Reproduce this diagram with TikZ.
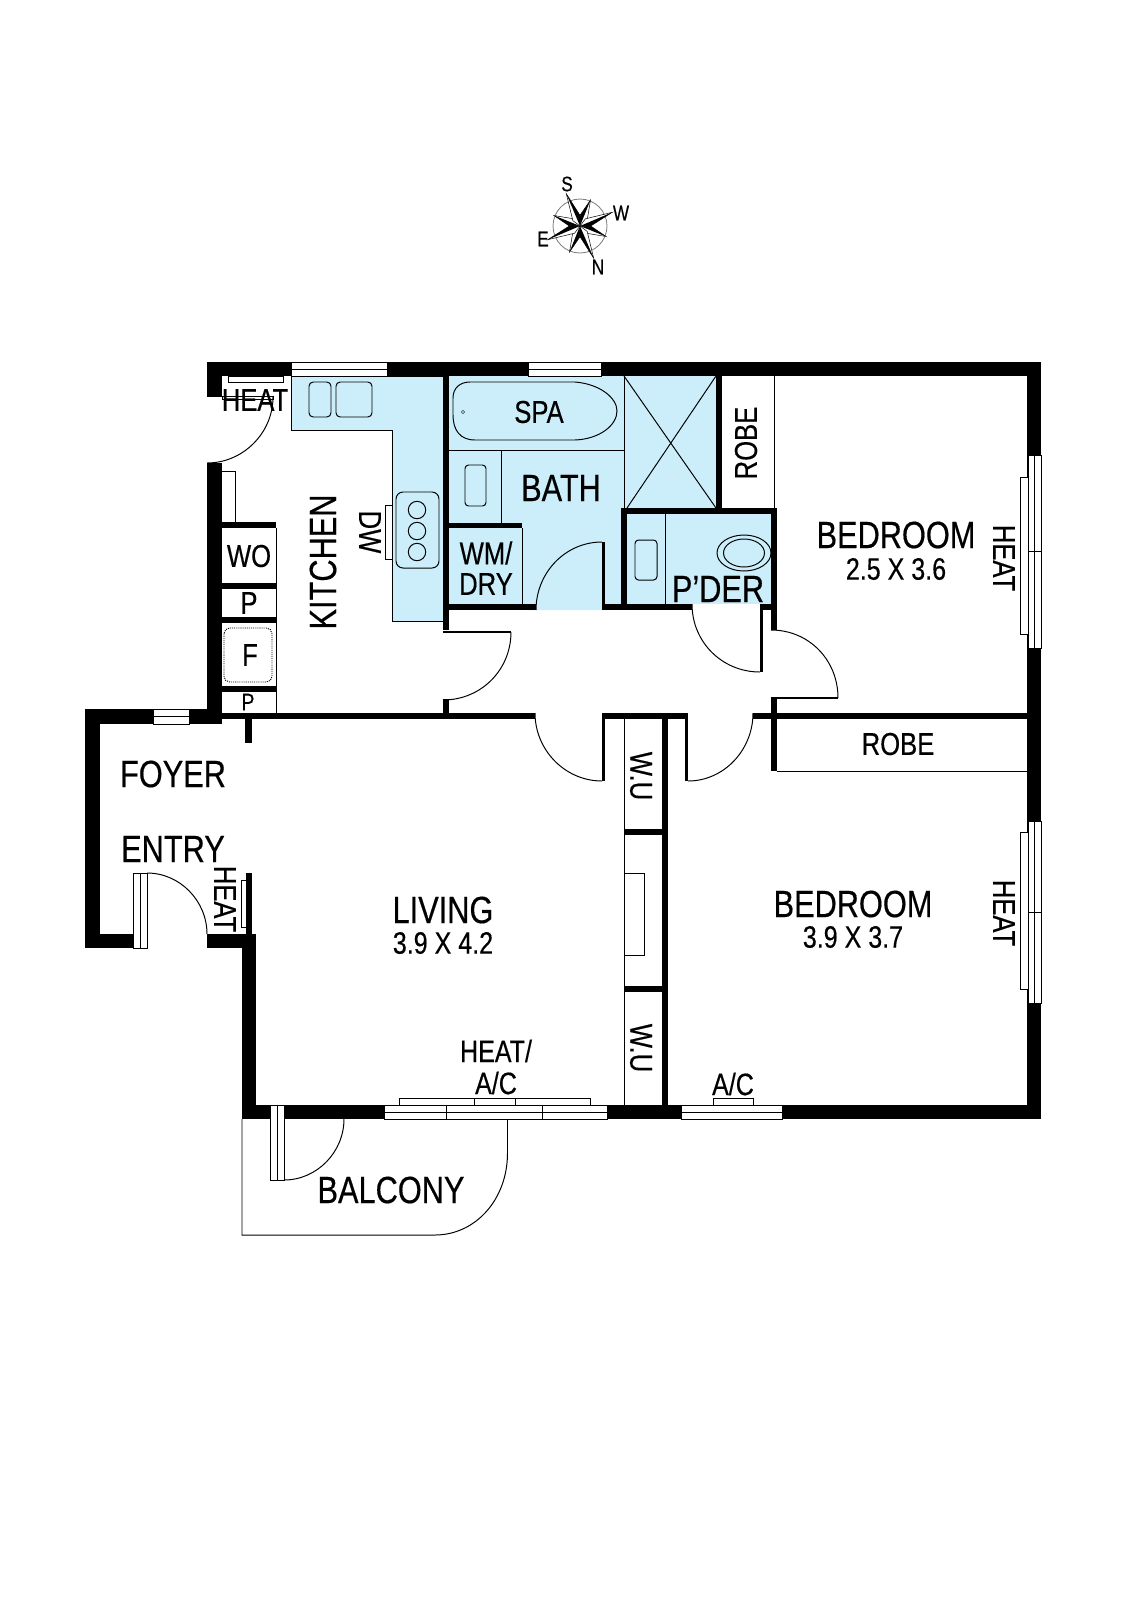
\documentclass[tikz,border=0pt]{standalone}
\usepackage{fontspec}
\setmainfont[FakeStretch=0.81,FakeBold=0.4]{Liberation Sans}
\definecolor{wetblue}{RGB}{204,238,250}
\tikzset{
  wall/.style={fill=black},
  thinline/.style={draw=black, line width=1.4pt},
  pane/.style={draw=black, fill=white, line width=1.4pt},
  wetarea/.style={draw=black, fill=wetblue, line width=1.4pt},
  roomlabel/.style={inner sep=0pt, font=\fontsize{54}{54}\selectfont},
  sizelabel/.style={inner sep=0pt, font=\fontsize{44}{44}\selectfont},
  smalllabel/.style={inner sep=0pt, font=\fontsize{45}{45}\selectfont},
  compasslabel/.style={inner sep=0pt, font=\fontsize{30}{30}\selectfont}
}
\begin{document}
\begin{tikzpicture}[x=0.05cm, y=-0.05cm]
  \useasboundingbox (0,0) rectangle (1132,1600);
  % wet areas
  \fill[wetblue] (449,376) -- (716,376) -- (716,508) -- (627,508) -- (627,610) -- (449,610) -- cycle;
  \fill[wetblue] (627,514) rectangle (771,604);
  \draw[wetarea] (291,376) -- (443,376) -- (443,621) -- (392,621) -- (392,430) -- (291,430) -- cycle;
  % kitchen sinks
  \draw[thinline, rounded corners=6pt] (309,382) rectangle (331,417);
  \draw[thinline, rounded corners=6pt] (336,382) rectangle (372,417);
  % hob
  \draw[thinline, rounded corners=10pt] (396,492) rectangle (439,568);
  \foreach \yy in {510,531,552}
    \draw[thinline] (417,\yy) circle [radius=8.7];
  \draw[thinline] (385,505) rectangle (392,559);
  % spa
  \draw[thinline] (470,382) -- (575,382) .. controls (600,384) and (617,398) .. (617,411)
    .. controls (617,425) and (600,439) .. (575,440) -- (475,440)
    .. controls (460,440) and (453,430) .. (453,415) -- (453,398)
    .. controls (453,388) and (460,382) .. (470,382) -- cycle;
  \draw[line width=0.5pt] (463,412) circle [radius=1.6];
  % bath fittings
  \draw[thinline] (449,450) -- (624,450);
  \draw[thinline] (624,376) -- (624,508);
  \draw[thinline] (501,450) -- (501,523);
  \draw[thinline] (522,528) -- (522,604);
  \draw[thinline, rounded corners=5pt] (465,465) rectangle (486,506);
  % shower
  \draw[thinline] (624,376) -- (716,508);
  \draw[thinline] (716,376) -- (627,508);
  % powder room fittings
  \draw[thinline] (665,514) -- (665,604);
  \draw[thinline, rounded corners=5pt] (635,540) rectangle (657,580);
  \draw[thinline] (744,553) ellipse [x radius=27, y radius=18];
  \draw[thinline] (744,553) ellipse [x radius=20.5, y radius=14];
  % outer walls
  \fill[wall] (207,362) rectangle (1041,376);
  \fill[wall] (207,362) rectangle (222,397);
  \fill[wall] (207,463) rectangle (222,724);
  \fill[wall] (85,709) rectangle (222,724);
  \fill[wall] (85,709) rectangle (100,948);
  \fill[wall] (85,934) rectangle (133,948);
  \fill[wall] (207,934) rectangle (256,948);
  \fill[wall] (242,934) rectangle (256,1119);
  \fill[wall] (242,1105) rectangle (1041,1119);
  \fill[wall] (1027,362) rectangle (1041,1119);
  % inner walls
  \fill[wall] (222,713) rectangle (535,719);
  \fill[wall] (604,713) rectangle (685,719);
  \fill[wall] (753,713) rectangle (1028,719);
  \fill[wall] (245,719) rectangle (252,743);
  \fill[wall] (246,873) rectangle (252,934);
  \fill[wall] (443,376) rectangle (449,630);
  \fill[wall] (443,699) rectangle (449,713);
  \fill[wall] (449,523) rectangle (522,528);
  \fill[wall] (443,604) rectangle (536,610);
  \fill[wall] (605,604) rectangle (692,610);
  \fill[wall] (763,604) rectangle (771,610);
  \fill[wall] (621,508) rectangle (777,514);
  \fill[wall] (621,508) rectangle (627,610);
  \fill[wall] (771,508) rectangle (777,630);
  \fill[wall] (771,698) rectangle (777,771);
  \fill[wall] (716,376) rectangle (722,508);
  \fill[wall] (662,719) rectangle (668,1105);
  \fill[wall] (624,829) rectangle (662,835);
  \fill[wall] (624,986) rectangle (662,992);
  % kitchen cupboards
  \foreach \ya/\yb in {522/528,583/589,617/623,686/692}
    \fill[wall] (222,\ya) rectangle (276,\yb);
  \draw[thinline] (276,528) -- (276,713);
  \draw[thinline] (222,471) -- (235,471) -- (235,522);
  \draw[line width=1.3pt, dash pattern=on 1.5pt off 1.5pt, rounded corners=8pt] (224,628) rectangle (272,682);
  % thin partitions
  \draw[thinline] (774,376) -- (774,508);
  \draw[thinline] (777,771) -- (1028,771);
  \draw[thinline] (624,719) -- (624,1105);
  \draw[thinline] (624,873) -- (644,873) -- (644,955) -- (624,955);
  % windows across the top and the bottom
  \foreach \xa/\xb in {291/387,528/601}{
    \draw[pane] (\xa,362) rectangle (\xb,376);
    \draw[thinline] (\xa,369) -- (\xb,369);
  }
  \draw[pane] (153,709) rectangle (189,724);
  \draw[thinline] (153,716) -- (189,716);
  \foreach \xa/\xb in {384/607,681/782}{
    \draw[pane] (\xa,1105) rectangle (\xb,1119);
    \draw[thinline] (\xa,1112) -- (\xb,1112);
  }
  \foreach \xx in {446,542}
    \draw[thinline] (\xx,1105) -- (\xx,1119);
  % windows on the right
  \foreach \ya/\yb in {455/648,821/1003}{
    \draw[pane] (1028,\ya) rectangle (1041,\yb);
    \draw[thinline] (1034.5,\ya) -- (1034.5,\yb);
    \draw[thinline] (1028,{(\ya+\yb)/2}) -- (1041,{(\ya+\yb)/2});
  }
  % heaters
  \draw[pane] (1020.5,477) rectangle (1028,634);
  \draw[pane] (1020.5,832) rectangle (1028,989);
  \draw[pane] (241,880) rectangle (246,927);
  \draw[pane] (228,376) rectangle (283,382);
  \draw[pane] (399,1098) rectangle (590,1105);
  \foreach \xx in {474,515}
    \draw[thinline] (\xx,1098) -- (\xx,1105);
  \draw[pane] (713,1098) rectangle (753.5,1105);
  % door frames
  \draw[pane] (133,873) rectangle (147,948);
  \draw[thinline] (140,873) -- (140,948);
  \draw[pane] (270,1105) rectangle (284,1180);
  \draw[thinline] (277,1105) -- (277,1180);
  % door leaves
  \draw[pane] (222,396) rectangle (273,399);
  \fill[wall] (443,630.5) rectangle (511,632.5);
  \fill[wall] (771,697) rectangle (838,699);
  \fill[wall] (602,542) rectangle (605,610);
  \fill[wall] (760,604) rectangle (763,672);
  \fill[wall] (602,713) rectangle (605,781);
  \fill[wall] (685,713) rectangle (688,781);
  % door swings
  \draw[thinline] (273,397) .. controls (273,433) and (243,463) .. (207,463);
  \draw[thinline] (511,632) .. controls (511,670) and (481,700) .. (443,700);
  \draw[thinline] (838,698) .. controls (838,660) and (809,630) .. (771,630);
  \draw[thinline] (536,610) .. controls (536,573) and (565,542) .. (602,542);
  \draw[thinline] (692,604) .. controls (692,642) and (722,672) .. (760,672);
  \draw[thinline] (535,713) .. controls (535,750) and (565,781) .. (602,781);
  \draw[thinline] (688,781) .. controls (724,781) and (753,750) .. (753,713);
  \draw[thinline] (147,873) .. controls (180,873) and (207,901) .. (207,934);
  \draw[thinline] (284,1180) .. controls (317,1180) and (344,1152) .. (344,1119);
  % balcony
  \draw[thinline] (242,1119) -- (242,1235) -- (435,1235)
    .. controls (475,1235) and (507.5,1200) .. (507.5,1153) -- (507.5,1119);
  % compass
  \begin{scope}[shift={(580,226)}]
    \draw[gray, line width=1.2pt] (0,0) circle [radius=27];
    \foreach \ang in {22,112,202,292}{
      \draw[line width=0.7pt] (0,0) -- (\ang+30:9) -- (\ang:28) -- (\ang-30:9) -- cycle;
      \fill (0,0) -- (\ang:28) -- (\ang-30:9) -- cycle;
    }
    \foreach \ang in {67,157,247,337}{
      \draw[fill=white, line width=0.7pt] (0,0) -- (\ang+30:9) -- (\ang:35) -- (\ang-30:9) -- cycle;
      \fill (0,0) -- (\ang:35) -- (\ang+30:9) -- cycle;
    }
  \end{scope}
  \node[compasslabel] (compassS) at (567,184) {S};
  \node[compasslabel] (compassW) at (621,213) {W};
  \node[compasslabel] (compassE) at (543,239) {E};
  \node[compasslabel] (compassN) at (598,267) {N};
  % room names
  \node[roomlabel, rotate=90] (kitchen) at (323,562) {KITCHEN};
  \node[roomlabel] (bath) at (561,488) {BATH};
  \node[roomlabel] (foyer) at (173,774) {FOYER};
  \node[roomlabel] (entry) at (173,849) {ENTRY};
  \node[roomlabel] (living) at (443,910) {LIVING};
  \node[sizelabel] (livingsize) at (443,943) {3.9 X 4.2};
  \node[roomlabel] (bedone) at (896,535) {BEDROOM};
  \node[sizelabel] (bedonesize) at (896,569) {2.5 X 3.6};
  \node[roomlabel] (bedtwo) at (853,904) {BEDROOM};
  \node[sizelabel] (bedtwosize) at (853,937) {3.9 X 3.7};
  \node[roomlabel] (balcony) at (391,1190) {BALCONY};
  \node[roomlabel] (pder) at (718,589) {P’DER};
  % small labels
  \node[smalllabel] (spa) at (539,412) {SPA};
  \node[smalllabel] (wm) at (486,553) {WM/};
  \node[smalllabel] (dry) at (486,584) {DRY};
  \node[smalllabel, rotate=90] (robeone) at (746,443) {ROBE};
  \node[smalllabel] (robetwo) at (898,744) {ROBE};
  \node[smalllabel] (wo) at (249,556) {WO};
  \node[smalllabel] (pone) at (249,603) {P};
  \node[smalllabel] (fridge) at (250,655) {F};
  \node[inner sep=0pt, font=\fontsize{34}{34}\selectfont] (ptwo) at (248,702) {P};
  \node[smalllabel, rotate=-90] (dw) at (370,532) {DW};
  \node[smalllabel] (heattop) at (255,400) {HEAT};
  \node[smalllabel, rotate=-90] (heatentry) at (225,899) {HEAT};
  \node[smalllabel, rotate=-90] (heatone) at (1004,558) {HEAT};
  \node[smalllabel, rotate=-90] (heattwo) at (1004,913) {HEAT};
  \node[smalllabel, rotate=-90] (wuone) at (641,776) {W.U};
  \node[smalllabel, rotate=-90] (wutwo) at (641,1048) {W.U};
  \node[sizelabel] (heatac) at (496,1051) {HEAT/};
  \node[sizelabel] (acone) at (496,1083) {A/C};
  \node[sizelabel] (actwo) at (733,1084) {A/C};
\end{tikzpicture}
\end{document}
